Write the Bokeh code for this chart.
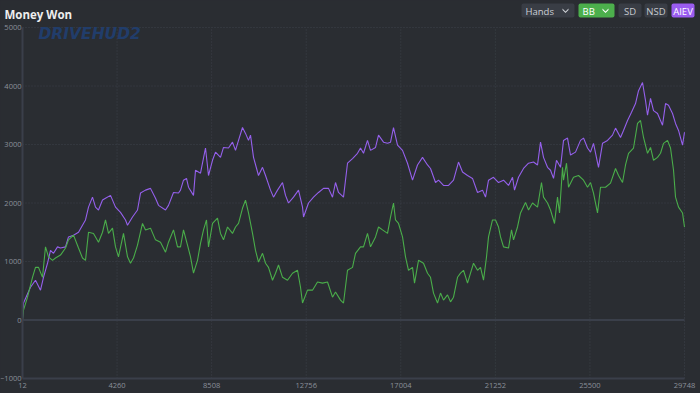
from bokeh.plotting import figure
from bokeh.models import Range1d, FixedTicker, Label, BoxAnnotation, PolyAnnotation
from bokeh.embed import file_html
from bokeh.resources import INLINE

# ---------------- data ----------------
AIEV_HANDS = [12, 57, 371, 596, 821, 955, 1135, 1270, 1405, 1584, 1719, 1944, 2078, 2303, 2528,
              2707, 2842, 2977, 3156, 3291, 3426, 3606, 3740, 3965, 4190, 4414, 4639, 4729, 4953,
              5178, 5313, 5537, 5762, 5986, 6121, 6436, 6570, 6795, 7020, 7109, 7244, 7379, 7469,
              7693, 7783, 8008, 8232, 8367, 8547, 8682, 8906, 9041, 9266, 9445, 9580, 9715, 9894,
              10029, 10164, 10254, 10389, 10613, 10793, 10928, 11152, 11287, 11467, 11691, 11826,
              11961, 12185, 12410, 12590, 12635, 12859, 13084, 13308, 13533, 13758, 13937, 14072,
              14207, 14431, 14611, 14836, 15060, 15195, 15330, 15509, 15644, 15869, 16004, 16228,
              16408, 16543, 16677, 16857, 17082, 17306, 17531, 17755, 17980, 18205, 18339, 18564,
              18699, 18923, 19148, 19373, 19597, 19777, 20001, 20226, 20451, 20675, 20810, 20945,
              21169, 21394, 21619, 21843, 22023, 22113, 22292, 22517, 22742, 22966, 23146, 23281,
              23415, 23595, 23730, 23865, 23999, 24179, 24314, 24493, 24628, 24853, 25077, 25212,
              25392, 25527, 25661, 25886, 26066, 26290, 26515, 26650, 26874, 27009, 27189, 27368,
              27548, 27683, 27862, 27997, 28087, 28222, 28357, 28536, 28761, 28896, 29030, 29210,
              29345, 29480, 29659, 29748]
AIEV_WON = [0, 290, 560, 680, 510, 730, 970, 1190, 1140, 1250, 1230, 1250, 1420, 1450, 1500,
            1620, 1710, 1930, 2100, 1930, 1880, 2050, 2080, 2130, 1930, 1840, 1710, 1620, 1760,
            1880, 2170, 2220, 2250, 2080, 1960, 1880, 1960, 2180, 2170, 2220, 2390, 2420, 2270,
            2130, 2560, 2510, 2940, 2470, 2730, 2870, 2780, 2950, 2940, 3040, 2900, 3070, 3290,
            3190, 3070, 3160, 2780, 2470, 2610, 2470, 2220, 2100, 2220, 2350, 2130,
            2000, 2100, 2220, 1930, 1760, 2000, 2100, 2180, 2250, 2250, 2100, 2350,
            2180, 2100, 2680, 2760, 2850, 2940, 2850, 3070, 2900, 2950, 3160, 3040,
            3020, 3040, 3290, 2990, 2900, 2680, 2390, 2650, 2780, 2650, 2590, 2350,
            2390, 2300, 2300, 2390, 2700, 2530, 2470, 2420, 2180, 2220, 2100, 2390,
            2440, 2350, 2390, 2300, 2440, 2220, 2440, 2590, 2680, 2700, 2650, 3040,
            2780, 2610, 2560, 2420, 2730, 2610, 3070, 3110, 2820, 2870, 3070, 3110,
            2940, 2870, 3020, 2610, 3020, 3070, 3160, 3280, 3120, 3240, 3410, 3550,
            3700, 3920, 4060, 3750, 3500, 3790, 3580, 3530, 3330, 3700, 3670, 3530,
            3360, 3240, 2990, 3210]

BB_HANDS = [12, 57, 237, 461, 596, 731, 910, 1045, 1180, 1360, 1494, 1719, 1944, 2078, 2303,
            2528, 2707, 2842, 2977, 3201, 3426, 3606, 3740, 3875, 4055, 4190, 4324, 4549, 4729,
            4863, 4998, 5178, 5402, 5537, 5762, 5986, 6211, 6436, 6570, 6795, 6975, 7109, 7244,
            7424, 7559, 7693, 7873, 8008, 8143, 8277, 8367, 8547, 8771, 8906, 9041, 9221, 9445,
            9580, 9715, 9894, 10029, 10164, 10344, 10478, 10613, 10793, 10928, 11062, 11242,
            11377, 11512, 11691, 11916, 12140, 12365, 12500, 12590, 12814, 13039, 13263, 13488,
            13713, 13937, 14072, 14297, 14431, 14611, 14836, 14970, 15195, 15330, 15509, 15644,
            15869, 16004, 16183, 16408, 16543, 16677, 16767, 16902, 17082, 17216, 17351, 17531,
            17621, 17800, 18025, 18205, 18339, 18474, 18654, 18789, 18923, 19103, 19238, 19373,
            19552, 19687, 19822, 20001, 20136, 20271, 20451, 20585, 20720, 20855, 20945, 21124,
            21259, 21394, 21484, 21619, 21843, 21978, 22068, 22247, 22382, 22607, 22742, 22921,
            23146, 23325, 23415, 23595, 23730, 23909, 24044, 24134, 24269, 24314, 24448, 24538,
            24763, 24988, 25212, 25392, 25527, 25661, 25841, 25976, 26200, 26425, 26650, 26785,
            26964, 27099, 27234, 27458, 27638, 27772, 27907, 28087, 28222, 28357, 28536, 28671,
            28806, 28985, 29120, 29255, 29345, 29480, 29659, 29748]
BB_WON = [0, 170, 390, 730, 900, 900, 730, 1250, 1080, 1020, 1060, 1110, 1230, 1370, 1450,
          1230, 1060, 1020, 1500, 1480, 1330, 1500, 1710, 1480, 1570, 1250, 1080, 1480, 1080,
          970, 1060, 1280, 1650, 1540, 1570, 1370, 1330, 1160, 1330, 1540, 1250, 1250, 1540,
          1280, 1080, 800, 1020, 1310, 1540, 1710, 1250, 1650, 1740, 1480, 1370, 1590, 1480,
          1590, 1650, 1910, 2050, 1830, 1480, 1190, 990, 1140, 970, 900, 680,
          800, 940, 730, 680, 800, 850, 560, 290, 510, 510, 650, 630,
          650, 390, 480, 340, 290, 850, 900, 1140, 1250, 1250, 1480, 1250,
          1420, 1590, 1540, 1480, 1760, 2000, 1710, 1650, 1420, 1080, 850, 900,
          630, 1020, 970, 800, 730, 460, 290, 460, 340, 430, 310, 390,
          730, 800, 850, 630, 800, 970, 850, 900, 680, 1080, 1420, 1710,
          1710, 1590, 1420, 1250, 1230, 1540, 1370, 1590, 1830, 2010, 1880, 2000,
          1930, 2350, 2100, 2000, 1880, 1650, 2100, 1830, 2610, 2390, 2680, 2270,
          2440, 2470, 2390, 2270, 2350, 2170, 1830, 2270, 2270, 2340, 2590, 2470,
          2350, 2650, 2850, 2940, 3360, 3410, 3120, 2850, 2950, 2730, 2780, 2850,
          3020, 3070, 2940, 2560, 2100, 1930, 1830, 1590]

X_TICKS = [12, 4260, 8508, 12756, 17004, 21252, 25500, 29748]
Y_TICKS = [-1000, 0, 1000, 2000, 3000, 4000, 5000]

TITLE = "Money Won"
BUTTONS = ["Hands", "BB", "SD", "NSD", "AIEV"]
WATERMARK = "DRIVEHUD2"

# ---------------- style / layout ----------------
BG = "#2a2d32"
GRID = "#3d424b"
AXIS = "#3a3f4a"
TICK_TXT = "#8b909a"
PURPLE = "#9560ec"
GREEN = "#4aad4a"
FONT = "Open Sans"

W, H = 700, 393
PL, PR, PT, PB = 22, 684, 27, 378     # plotting box edges, page px

# the frame fills the whole canvas; axes sit at fixed data locations
kx = (X_TICKS[-1] - X_TICKS[0]) / (PR - PL)
ky = (Y_TICKS[-1] - Y_TICKS[0]) / (PB - PT)
x_rng = Range1d(X_TICKS[0] - PL * kx, X_TICKS[-1] + (W - PR) * kx)
y_rng = Range1d(Y_TICKS[0] - (H - PB) * ky, Y_TICKS[-1] + PT * ky)

p = figure(width=W, height=H, output_backend="svg", toolbar_location=None,
           x_range=x_rng, y_range=y_rng, min_border=0)
p.background_fill_color = BG
p.border_fill_color = BG
p.outline_line_color = None
p.grid.visible = False

xa, ya = p.xaxis[0], p.yaxis[0]
xa.fixed_location = Y_TICKS[0]
ya.fixed_location = X_TICKS[0]
xa.bounds = (X_TICKS[0], X_TICKS[-1])
ya.bounds = (Y_TICKS[0], Y_TICKS[-1])
xa.ticker = FixedTicker(ticks=X_TICKS)
ya.ticker = FixedTicker(ticks=Y_TICKS)
for ax in (xa, ya):
    ax.axis_line_color = AXIS
    ax.axis_line_width = 2
    ax.major_tick_line_color = None
    ax.minor_tick_line_color = None
    ax.major_tick_out = 0
    ax.major_tick_in = 0
    ax.minor_tick_out = 0
    ax.minor_tick_in = 0
    ax.major_label_text_color = TICK_TXT
    ax.major_label_text_font = FONT
    ax.major_label_text_font_size = "7.5px"
xa.major_label_standoff = 4
ya.major_label_standoff = 1

# dotted grid inside the plotting box
gx = X_TICKS[1:]
p.segment(x0=gx, y0=[Y_TICKS[0]] * len(gx), x1=gx, y1=[Y_TICKS[-1]] * len(gx),
          line_color=GRID, line_dash="1 2", line_width=1)
gy = [t for t in Y_TICKS if t > 0]
p.segment(x0=[X_TICKS[0]] * len(gy), y0=gy, x1=[X_TICKS[-1]] * len(gy), y1=gy,
          line_color=GRID, line_dash="1 2", line_width=1)
# zero line
p.segment(x0=[X_TICKS[0]], y0=[0], x1=[X_TICKS[-1]], y1=[0], line_color=AXIS, line_width=2)

p.line(AIEV_HANDS, AIEV_WON, line_color=PURPLE, line_width=1.1)
p.line(BB_HANDS, BB_WON, line_color=GREEN, line_width=1.1)

# ---------------- header (screen units = page px, y measured up from bottom) ----------------
def sy(py):
    return H - py

p.add_layout(Label(x=38, y=sy(33), x_units="screen", y_units="screen",
                   text=WATERMARK, text_font="DejaVu Sans", text_font_style="bold italic",
                   text_font_size="15.5px", text_color="#213d6b", text_baseline="middle"))

p.add_layout(Label(x=4, y=sy(13.5), x_units="screen", y_units="screen",
                   text=TITLE, text_font=FONT, text_font_style="bold",
                   text_font_size="11.5px", text_color="#eeeeee", text_baseline="alphabetic"))

BTN_L = [521, 578, 618, 644, 671]
BTN_R = [574, 614, 641, 667, 694]
BTN_FILL = ["#393d45", "#4caf4c", "#393d45", "#393d45", "#9a5cf0"]
BTN_TXT_C = ["#cdd0d5", "#ffffff", "#c6c9ce", "#c6c9ce", "#ffffff"]
BTN_TXT_X = [525, 582, 629.5, 655.5, 682.5]
BTN_ALIGN = ["left", "left", "center", "center", "center"]

for l, r, f in zip(BTN_L, BTN_R, BTN_FILL):
    p.add_layout(BoxAnnotation(left=l, right=r, top=sy(3), bottom=sy(17),
                               left_units="screen", right_units="screen",
                               top_units="screen", bottom_units="screen",
                               fill_color=f, fill_alpha=1, line_color=None,
                               border_radius=2))
for name, tx, tc, al in zip(BUTTONS, BTN_TXT_X, BTN_TXT_C, BTN_ALIGN):
    p.add_layout(Label(x=tx, y=sy(10.5), x_units="screen", y_units="screen",
                       text=name, text_font=FONT, text_font_size="9.5px",
                       text_color=tc, text_align=al, text_baseline="middle"))

# dropdown chevrons
for cx, cc in ((565, "#cdd0d5"), (605, "#ffffff")):
    xs = [cx - 3, cx, cx + 3, cx + 3, cx, cx - 3]
    ys = [sy(8), sy(11), sy(8), sy(9.5), sy(12.5), sy(9.5)]
    p.add_layout(PolyAnnotation(xs=xs, ys=ys, xs_units="screen", ys_units="screen",
                                fill_color=cc, fill_alpha=1, line_color=None))

html = file_html(p, INLINE, title="Money Won")
html = html.replace("</head>",
                    "<style>html,body{margin:0;padding:0;background:#2a2d32;overflow:hidden;}</style></head>", 1)
open("out.html", "w").write(html)
